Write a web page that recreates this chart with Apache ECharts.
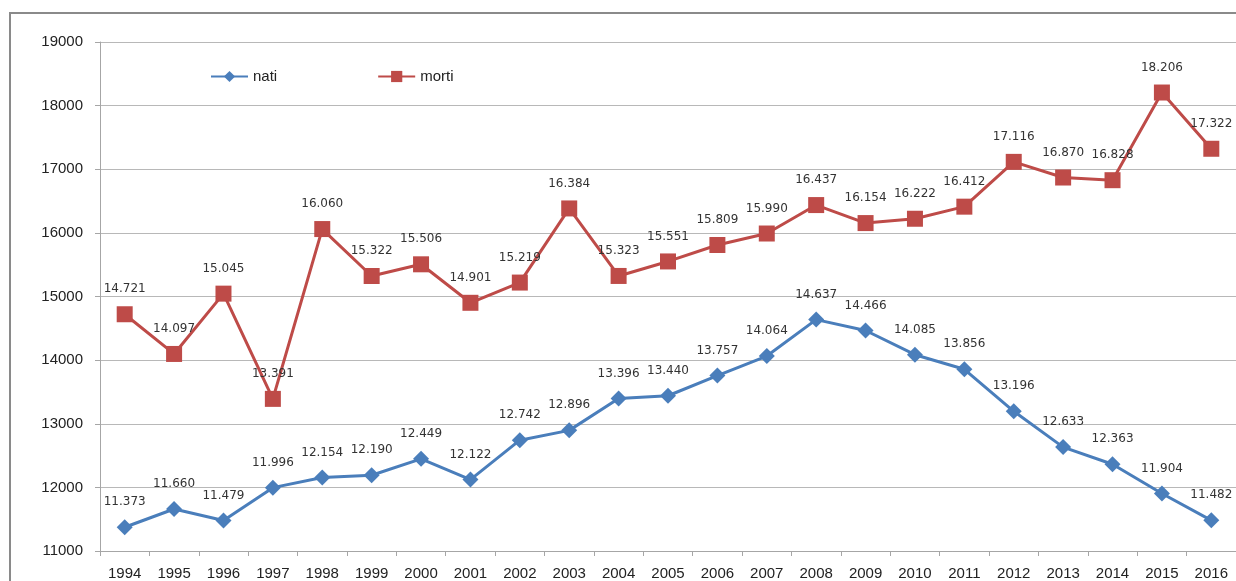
<!DOCTYPE html>
<html>
<head>
<meta charset="utf-8">
<script src="https://cdn.jsdelivr.net/npm/echarts@6/dist/echarts.min.js"></script>
<style>
  html, body { margin: 0; padding: 0; background: #fff; }
  #chart { width: 1236px; height: 581px; }
</style>
</head>
<body>
<div id="chart"></div>
<script>
// anni
const years = ['1994', '1995', '1996', '1997', '1998', '1999', '2000', '2001', '2002', '2003', '2004', '2005',
  '2006', '2007', '2008', '2009', '2010', '2011', '2012', '2013', '2014', '2015', '2016']
const nati = [11373, 11660, 11479, 11996, 12154, 12190, 12449, 12122, 12742, 12896, 13396, 13440,
  13757, 14064, 14637, 14466, 14085, 13856, 13196, 12633, 12363, 11904, 11482]
const morti = [14721, 14097, 15045, 13391, 16060, 15322, 15506, 14901, 15219, 16384, 15323, 15551,
  15809, 15990, 16437, 16154, 16222, 16412, 17116, 16870, 16828, 18206, 17322]

// 11373 -> 11.373
function fmt (v) {
  const s = String(v)
  return s.slice(0, s.length - 3) + '.' + s.slice(-3)
}

const chart = echarts.init(document.getElementById('chart'))

chart.setOption({
  animation: false,
  textStyle: { fontFamily: 'DejaVu Sans' },
  graphic: [
    {
      type: 'rect',
      shape: { x: 10, y: 13, width: 1400, height: 800 },
      style: { fill: 'none', stroke: '#8a8a8a', lineWidth: 2 },
      silent: true
    }
  ],
  legend: {
    left: 205,
    top: 64,
    itemWidth: 37,
    itemHeight: 14,
    itemGap: 100,
    textStyle: { fontFamily: 'Liberation Sans', fontSize: 15, color: '#222' },
    data: ['nati', 'morti']
  },
  grid: {
    left: 100,
    top: 42,
    width: 1141,
    bottom: 30
  },
  xAxis: {
    type: 'category',
    data: years,
    boundaryGap: true,
    axisLine: { lineStyle: { color: '#a6a6a6', width: 1 } },
    axisTick: { show: true, length: 5, lineStyle: { color: '#a6a6a6' } },
    axisLabel: {
      margin: 15,
      fontFamily: 'Liberation Sans',
      fontSize: 15,
      color: '#222'
    }
  },
  yAxis: {
    type: 'value',
    min: 11000,
    max: 19000,
    interval: 1000,
    axisLine: { show: true, lineStyle: { color: '#a6a6a6', width: 1 } },
    axisTick: { show: true, length: 5, lineStyle: { color: '#a6a6a6' } },
    axisLabel: {
      margin: 17,
      fontFamily: 'Liberation Sans',
      fontSize: 15,
      color: '#222',
      formatter: v => String(v)
    },
    splitLine: { lineStyle: { color: '#b8b8b8', width: 1 } }
  },
  series: [
    {
      name: 'nati',
      type: 'line',
      data: nati,
      symbol: 'diamond',
      symbolSize: 16,
      color: '#4a7ebb',
      lineStyle: { width: 3, color: '#4a7ebb' },
      itemStyle: { color: '#4a7ebb' },
      label: {
        show: true,
        position: 'top',
        distance: 11,
        fontSize: 12,
        color: '#333',
        formatter: p => fmt(p.value)
      }
    },
    {
      name: 'morti',
      type: 'line',
      data: morti,
      symbol: 'rect',
      symbolSize: 16,
      color: '#be4b48',
      lineStyle: { width: 3, color: '#be4b48' },
      itemStyle: { color: '#be4b48' },
      label: {
        show: true,
        position: 'top',
        distance: 11,
        fontSize: 12,
        color: '#333',
        formatter: p => fmt(p.value)
      }
    }
  ]
})
</script>
</body>
</html>
